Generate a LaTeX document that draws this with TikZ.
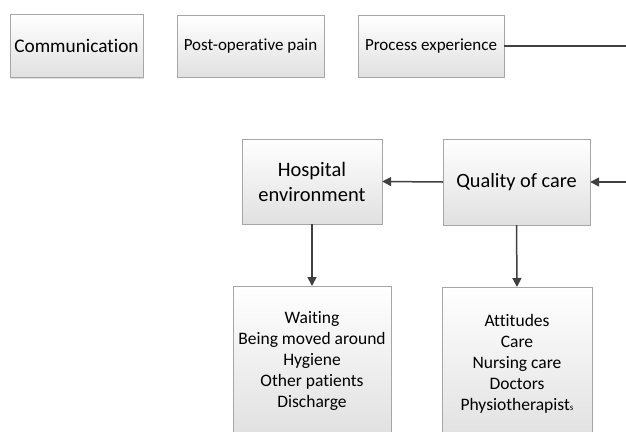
\documentclass[tikz,border=0pt]{standalone}
\usepackage{fontspec}
\setmainfont[Ligatures=NoCommon]{Carlito}
\usetikzlibrary{arrows.meta,shadows}

\begin{document}
\begin{tikzpicture}[x=1pt,y=-1pt,
	box/.style={draw=black!35, top color=white, bottom color=black!12,
		drop shadow={shadow xshift=1.2pt, shadow yshift=-1.2pt, opacity=0.25},
		inner sep=2pt, align=center, text=black},
	link/.style={draw=black!75, line width=1.5pt},
	arr/.style={link, -{Triangle[length=9pt,width=9pt]}}]
 	\clip (0,0) rectangle (626,431);
	\fill[white] (0,0) rectangle (626,431);
	% top row
	\node[box, minimum width=133pt, minimum height=63pt, font=\fontsize{19.3}{22}\selectfont]
		(comm) at (76.5,46) {Communication};
	\node[box, minimum width=147pt, minimum height=62pt, font=\fontsize{17}{20}\selectfont]
		(pain) at (250.5,46) {Post-operative pain};
	\node[box, minimum width=146pt, minimum height=62pt, font=\fontsize{17}{20}\selectfont]
		(proc) at (431,46) {Process experience};
	% second row
	\node[box, minimum width=140pt, minimum height=85pt, font=\fontsize{20.5}{25}\selectfont]
		(hosp) at (312,181.5) {Hospital\\environment};
	\node[box, minimum width=147pt, minimum height=86pt, font=\fontsize{20.3}{24}\selectfont]
		(qual) at (516.5,182) {Quality of care};
	% lists
	\node[box, minimum width=158pt, minimum height=150pt, anchor=north, font=\fontsize{17.5}{21}\selectfont]
		(env) at (312,286) {Waiting\\Being moved around\\Hygiene\\Other patients\\Discharge};
	\node[box, minimum width=150pt, minimum height=154pt, anchor=north, font=\fontsize{17.5}{21}\selectfont]
		(att) at (517,287) {Attitudes\\Care\\Nursing care\\Doctors\\Physiotherapist{\fontsize{9}{9}\selectfont s}};
	% connectors
	\coordinate (turn) at (645,46);
	\draw[arr] (proc.east) -- (turn) |- (qual.east);
	\draw[arr] (qual.west) -- (hosp.east);
	\draw[arr] (hosp.south) -- (env.north);
	\draw[arr] (qual.south) -- (att.north);
\end{tikzpicture}
\end{document}
